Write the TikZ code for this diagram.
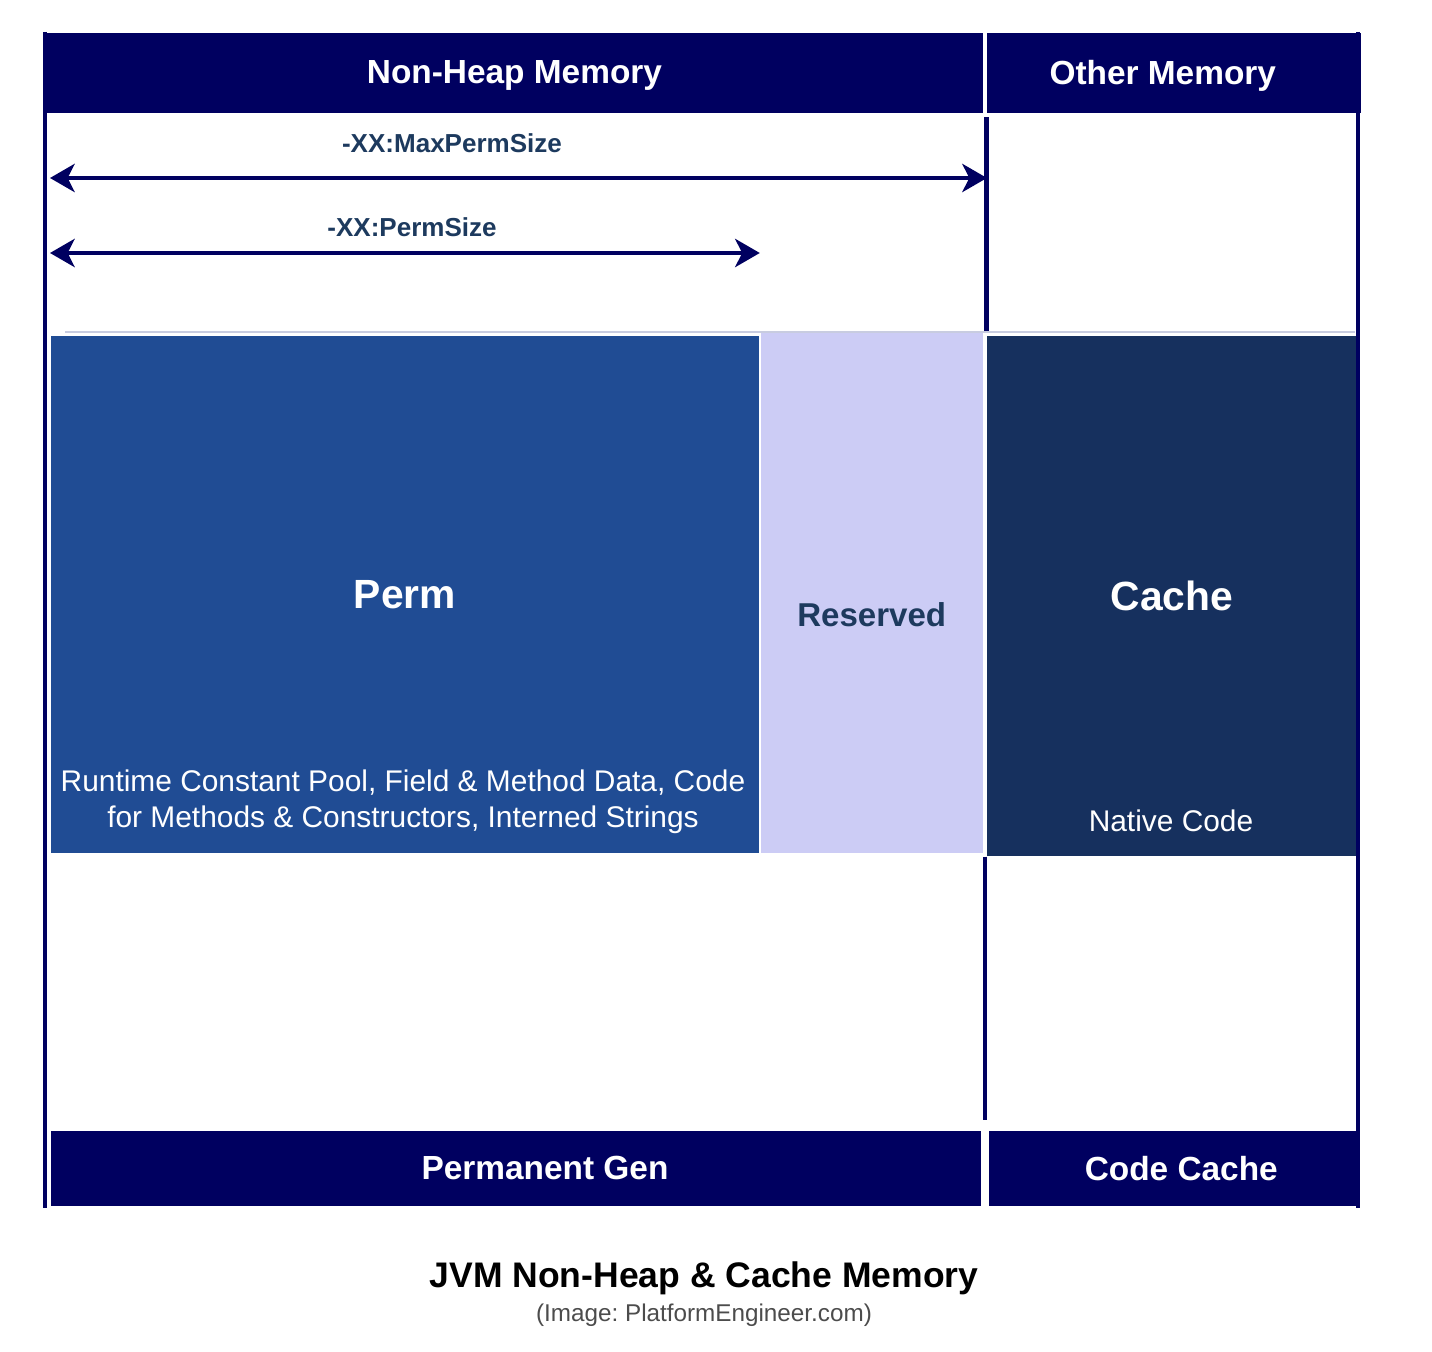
\documentclass[tikz,border=0pt]{standalone}
\usepackage{fontspec}
\setmainfont{Liberation Sans}
\frenchspacing
\usetikzlibrary{arrows.meta}
\definecolor{navy}{RGB}{0,0,96}
\definecolor{permblue}{RGB}{32,76,148}
\definecolor{reservedlilac}{RGB}{204,204,245}
\definecolor{cachenavy}{RGB}{22,48,94}
\definecolor{labelblue}{RGB}{29,58,94}
\definecolor{edgegrey}{RGB}{200,204,224}
\tikzstyle{region}=[anchor=north west, inner sep=0pt, text=white]
\tikzstyle{header}=[region, fill=navy, font=\bfseries\fontsize{9.5}{11}\selectfont]
\tikzstyle{bigtext}=[text=white, font=\bfseries\fontsize{11.6}{14}\selectfont]
\tikzstyle{smalltext}=[text=white, align=center, font=\fontsize{8.5}{10.2}\selectfont]
\tikzstyle{texto}=[text=labelblue, font=\bfseries\fontsize{7.4}{9}\selectfont]
\tikzstyle{border}=[draw=navy, line width=1.2pt]
\tikzstyle{divider}=[draw=navy, line width=1.4pt]
\tikzstyle{line}=[draw, color=navy, line width=1.4pt,
  {Stealth[length=7pt, width=8pt, inset=2pt]}-{Stealth[length=7pt, width=8pt, inset=2pt]}]
\newcommand{\block}[4]{node (#1) [region, minimum width=#2cm, minimum height=#3cm, #4]}

\begin{document}
\begin{tikzpicture}[x=0.01cm, y=-0.01cm]
\useasboundingbox (0,0) rectangle (1432,1352);

% Headers
\path (45,32)    \block{nonheap}{9.37}{0.80}{header,
  label={[yshift=-0.03cm, text=white, font=\bfseries\fontsize{9.5}{11}\selectfont]center:Non-Heap Memory}} {};
\path (986,32)   \block{other}{3.74}{0.80}{header,
  label={[xshift=-0.11cm, yshift=-0.03cm, text=white, font=\bfseries\fontsize{9.5}{11}\selectfont]center:Other Memory}} {};

% Memory areas
\path (50,335)   \block{perm}{7.08}{5.17}{fill=permblue, bigtext} {Perm};
\path (760,332)  \block{reserved}{2.22}{5.20}{fill=reservedlilac} {};
\path (986,335)  \block{cache}{3.70}{5.20}{fill=cachenavy, bigtext} {Cache};

\node (reservedlabel) [text=labelblue, font=\bfseries\fontsize{9.4}{11}\selectfont]
  at ([yshift=-0.22cm]reserved.center) {Reserved};
\node (permdata) [smalltext] at (403,802)
  {Runtime Constant Pool, Field \& Method Data, Code\\for Methods \& Constructors, Interned Strings};
\node (nativecode) [smalltext] at (1171,821) {Native Code};

% Footers
\path (50,1130)  \block{permgen}{9.30}{0.75}{header,
  label={[xshift=0.29cm, text=white, font=\bfseries\fontsize{9.5}{11}\selectfont]center:Permanent Gen}} {};
\path (988,1130) \block{codecache}{3.67}{0.75}{header,
  label={[xshift=0.09cm, text=white, font=\bfseries\fontsize{9.5}{11}\selectfont]center:Code Cache}} {};

% Frame and dividers
\path [border] (nonheap.north west) -- (45,1208);
\path [border] (1358,32) -- (1358,1208);
\path [divider] (nonheap.south east) ++(3,4) coordinate (div-a) -- (div-a |- reserved.north);
\path [divider] (cache.south west) ++(-1,0) coordinate (div-b) -- ([yshift=0.1cm]div-b |- permgen.north);
\path [draw=edgegrey, line width=0.5pt] (65,332) -- (1355,332);

% Size arrows
\coordinate (max-l) at (50,178);
\coordinate (max-r) at (div-a |- max-l);
\coordinate (size-l) at (50,253);
\coordinate (size-r) at (perm.east |- size-l);
\path [line] (max-l) -- (max-r);
\path [line] (size-l) -- (size-r);
\node (maxlabel) [texto] at (452,143) {-XX:MaxPermSize};
\node (sizelabel) [texto] at (412,227) {-XX:PermSize};

% Caption
\node (title) [font=\bfseries\fontsize{10.1}{12}\selectfont] at (704,1278) {JVM Non-Heap \& Cache Memory};
\node (credit) [text=black!70, font=\fontsize{6.9}{8}\selectfont] at (704,1315) {(Image: PlatformEngineer.com)};

\end{tikzpicture}
\end{document}
